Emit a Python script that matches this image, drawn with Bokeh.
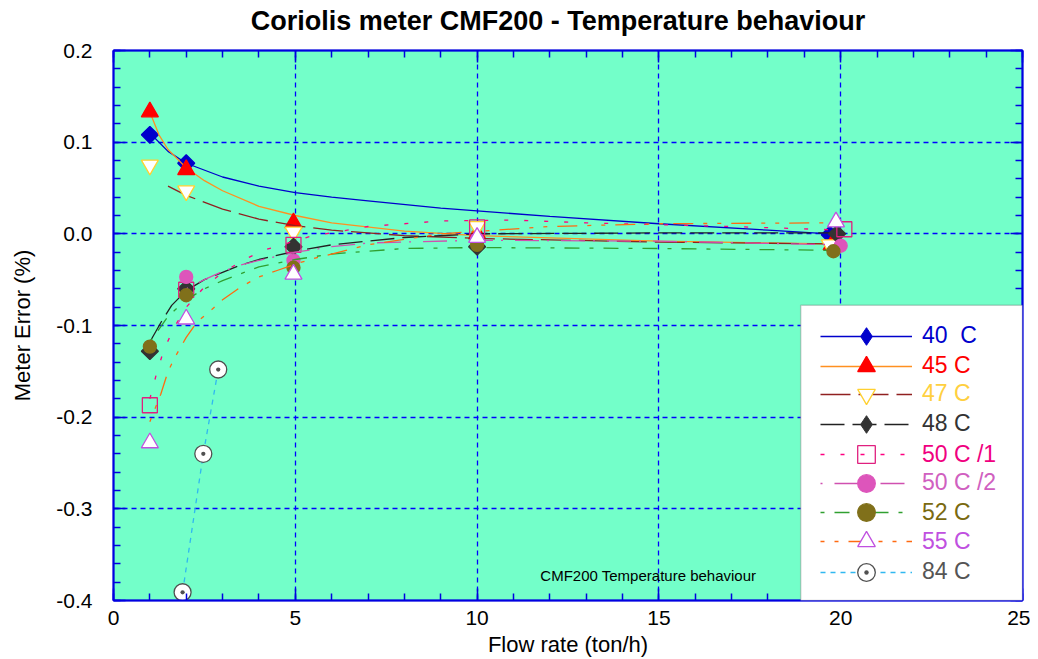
import numpy as np
from bokeh.plotting import figure
from bokeh.models import (Range1d, LinearAxis, FixedTicker, PrintfTickFormatter,
                          CustomJSTickFormatter, Legend, LegendItem, BoxAnnotation, Label)
from bokeh.embed import file_html
from bokeh.resources import INLINE

# ---------------- data ----------------
title_text = "Coriolis meter CMF200 - Temperature behaviour"
labels = ["40  C", "45 C", "47 C", "48 C", "50 C /1", "50 C /2", "52 C", "55 C", "84 C"]

x_40 = [1, 2, 19.7]
y_40 = [0.108, 0.077, -0.001]
fx_40 = [1, 1.5, 2, 3, 4, 5, 6, 7, 9, 12, 15, 18, 19.7]
fy_40 = [0.110, 0.090, 0.077, 0.062, 0.052, 0.045, 0.040, 0.036, 0.028, 0.019, 0.011, 0.004, 0.0]

x_45 = [1, 2, 4.95, 10, 19.75]
y_45 = [0.133, 0.070, 0.012, 0.0, -0.012]
fx_45 = [1, 1.25, 1.5, 2, 2.5, 3, 4, 5, 6, 8, 10, 15, 19.75]
fy_45 = [0.133, 0.108, 0.092, 0.072, 0.058, 0.047, 0.030, 0.020, 0.012, 0.003, -0.002, -0.008, -0.011]

x_47 = [1, 2, 4.95, 10, 19.7]
y_47 = [0.075, 0.047, 0.002, 0.008, -0.012]
fx_47 = [1.5, 2, 3, 4, 5, 6, 8, 10, 15, 19.7]
fy_47 = [0.052, 0.042, 0.027, 0.016, 0.009, 0.004, -0.002, -0.005, -0.009, -0.011]

x_48 = [1, 2, 4.95, 10, 19.9]
y_48 = [-0.128, -0.060, -0.014, -0.014, 0.0]
fx_48 = [1, 1.3, 1.6, 2, 2.5, 3, 3.5, 4, 5, 6, 8, 10, 15, 19.9]
fy_48 = [-0.118, -0.097, -0.078, -0.062, -0.050, -0.042, -0.034, -0.028, -0.019, -0.012, -0.004, 0.0, 0.001, 0.001]

x_50a = [1, 2, 4.95, 10, 20.1]
y_50a = [-0.187, -0.061, -0.012, 0.007, 0.005]
fx_50a = [1, 1.2, 1.4, 1.7, 2, 2.5, 3, 3.7, 4.2, 5.4, 7, 9, 11, 13, 15, 17, 20.1]
fy_50a = [-0.180, -0.150, -0.125, -0.100, -0.080, -0.058, -0.042, -0.026, -0.017, -0.003, 0.008, 0.014, 0.015, 0.012, 0.010, 0.008, 0.004]

x_50b = [2, 4.95, 10, 20.0]
y_50b = [-0.047, -0.029, -0.006, -0.013]
fx_50b = [2, 2.5, 3, 3.5, 4, 5, 6, 7, 10, 15, 20.0]
fy_50b = [-0.060, -0.050, -0.041, -0.034, -0.029, -0.020, -0.014, -0.010, -0.007, -0.008, -0.012]

x_52 = [1, 2, 4.95, 10, 19.8]
y_52 = [-0.123, -0.067, -0.037, -0.012, -0.019]
fx_52 = [1, 1.5, 2, 2.5, 3, 4, 5, 6, 8, 10, 15, 19.8]
fy_52 = [-0.118, -0.090, -0.072, -0.060, -0.051, -0.036, -0.028, -0.022, -0.016, -0.015, -0.016, -0.018]

x_55 = [1, 2, 4.95, 10, 19.87]
y_55 = [-0.228, -0.093, -0.044, -0.004, 0.013]
fx_55 = [1, 1.3, 1.5, 1.7, 2, 2.3, 2.75, 3, 3.5, 4, 4.5, 5, 5.5, 7, 9, 12, 15, 19.87]
fy_55 = [-0.205, -0.175, -0.150, -0.134, -0.113, -0.096, -0.081, -0.072, -0.058, -0.047, -0.040, -0.033, -0.027, -0.012, 0.0, 0.008, 0.011, 0.012]

x_84 = [1.9, 2.47, 2.88]
y_84 = [-0.391, -0.240, -0.148]
fx_84 = [1.9, 2.47, 2.88]
fy_84 = [-0.391, -0.240, -0.148]

x_ticks = [0, 5, 10, 15, 20, 25]
x_minor = list(range(0, 26))
y_ticks = [-0.4, -0.3, -0.2, -0.1, 0.0, 0.1, 0.2]
y_minor = [round(-0.4 + 0.02 * i, 2) for i in range(31)]

# ---------------- styles ----------------
series = [
    # x, y, fx, fy, line color, dash, marker, size, angle, fill, edge, text color
    (x_40, y_40, fx_40, fy_40, "#0000CC", "solid", "square", 12, np.pi / 4, "#0000CC", "#0000CC", "#0000CC"),
    (x_45, y_45, fx_45, fy_45, "#FF9020", "solid", "triangle", 17, 0, "#FF0000", "#FF0000", "#FF0000"),
    (x_47, y_47, fx_47, fy_47, "#902020", "30 8", "inverted_triangle", 17, 0, "white", "#FFD030", "#FFD040"),
    (x_48, y_48, fx_48, fy_48, "#222222", "24 8", "square", 12, np.pi / 4, "#333333", "#333333", "#333333"),
    (x_50a, y_50a, fx_50a, fy_50a, "#FF0080", "4 16", "square", 15, 0, None, "#E0207F", "#F0007F"),
    (x_50b, y_50b, fx_50b, fy_50b, "#D050B0", "2 12 24 8", "circle", 13, 0, "#DD55BB", "#DD55BB", "#D060C0"),
    (x_52, y_52, fx_52, fy_52, "#30A030", "4 10 15 10", "circle", 13, 0, "#80701A", "#80701A", "#7A6A10"),
    (x_55, y_55, fx_55, fy_55, "#FF6A10", "4 10 4 10 20 10", "triangle", 17, 0, "white", "#C050E0", "#C050E0"),
    (x_84, y_84, fx_84, fy_84, "#30B8F0", "5 5", "circle_dot", 17, 0, "white", "#505050", "#555555"),
]

FONT = "Liberation Sans"
BLUE = "#0000E0"

p = figure(width=1030, height=659, x_range=Range1d(0, 25), y_range=Range1d(-0.4, 0.2),
           output_backend="svg", toolbar_location=None, tools="",
           min_border_left=113, min_border_right=8, min_border_top=50, min_border_bottom=58,
           background_fill_color="#73FFC9", border_fill_color="white",
           outline_line_color=BLUE, outline_line_width=1.5)

def style_axis(ax, ticks, minor, standoff):
    ax.ticker = FixedTicker(ticks=ticks, minor_ticks=minor)
    ax.axis_line_color = BLUE
    ax.axis_line_width = 2
    ax.major_tick_line_color = BLUE
    ax.minor_tick_line_color = BLUE
    ax.major_tick_line_width = 1.5
    ax.minor_tick_line_width = 1.5
    ax.major_tick_in = 12
    ax.major_tick_out = 0
    ax.minor_tick_in = 7
    ax.minor_tick_out = 0
    ax.major_label_standoff = standoff
    ax.major_label_text_font = FONT
    ax.major_label_text_font_size = "21px"
    ax.major_label_text_color = "black"

xa = p.xaxis[0]
style_axis(xa, x_ticks, x_minor, 10)
xa.axis_label = "Flow rate (ton/h)"
xa.axis_label_text_font = FONT
xa.axis_label_text_font_size = "22px"
xa.axis_label_text_font_style = "normal"
xa.axis_label_text_color = "black"
xa.axis_label_standoff = 4

ya = p.yaxis[0]
style_axis(ya, y_ticks, y_minor, 21)
ya.formatter = PrintfTickFormatter(format="%.1f")
ya.axis_label = "Meter Error (%)"
ya.axis_label_text_font = FONT
ya.axis_label_text_font_size = "22px"
ya.axis_label_text_font_style = "normal"
ya.axis_label_text_color = "black"
ya.axis_label_standoff = 18

blank = CustomJSTickFormatter(code="return ''")
top = LinearAxis(formatter=blank)
style_axis(top, x_ticks, x_minor, 0)
top.major_label_text_font_size = "0px"
p.add_layout(top, "above")
right = LinearAxis(formatter=blank)
style_axis(right, y_ticks, y_minor, 0)
right.major_label_text_font_size = "0px"
p.add_layout(right, "right")

p.xgrid.ticker = FixedTicker(ticks=x_ticks)
p.ygrid.ticker = FixedTicker(ticks=y_ticks)
for g in (p.xgrid, p.ygrid):
    g.grid_line_color = "#0000FF"
    g.grid_line_dash = "5 4"
    g.grid_line_width = 1.3

renderers = []
for (x, y, fx, fy, lc, dash, mk, sz, ang, fc, ec, tc) in series:
    lr = p.line(fx, fy, line_color=lc, line_width=1.3, line_dash=dash)
    kw = dict(marker=mk, size=sz, angle=ang, line_color=ec, line_width=1.3)
    if fc is None:
        kw["fill_alpha"] = 0
    else:
        kw["fill_color"] = fc
    sr = p.scatter(x, y, **kw)
    items = [lr, sr]
    if ang:
        # legend swatch: the legend ignores marker angle, so use a diamond swatch
        hr = p.scatter(x, y, marker="diamond", size=sz, line_color=ec, fill_color=fc, visible=False)
        items = [lr, hr]
    renderers.append((items, tc))

# legend box
box = BoxAnnotation(left=18.9, right=25, top=-0.078, bottom=-0.4,
                    fill_color="white", fill_alpha=1, line_color="#606060", line_width=1.5)
p.add_layout(box)

row_centers = [336.5, 366.5, 394.5, 424.5, 455, 483.5, 513, 542, 572.5]  # page y of the reference rows
frame_bottom_page = 601
for lab, (items, tc), c in zip(labels, renderers, row_centers):
    leg = Legend(items=[LegendItem(label=lab, renderers=items)],
                 location=(707, frame_bottom_page - c - 22),
                 glyph_width=92, glyph_height=44, padding=0, margin=0, spacing=0,
                 label_standoff=10, label_text_font=FONT, label_text_font_size="23px",
                 label_text_color=tc, background_fill_alpha=0, border_line_alpha=0,
                 label_height=20, label_width=10)
    p.add_layout(leg)

note = Label(x=11.74, y=-0.373, text="CMF200 Temperature behaviour", text_font=FONT,
             text_font_size="15px", text_baseline="middle", text_color="black")
p.add_layout(note)

# chart title, placed in the panel above the plot (screen units relative to that panel)
title = Label(x=444.5, y=30, x_units="screen", y_units="screen",
              text=title_text, text_font=FONT, text_font_size="27px", text_font_style="bold",
              text_align="center", text_baseline="middle", text_color="black")
p.add_layout(title, "above")

open("out.html", "w").write(file_html(p, INLINE))
